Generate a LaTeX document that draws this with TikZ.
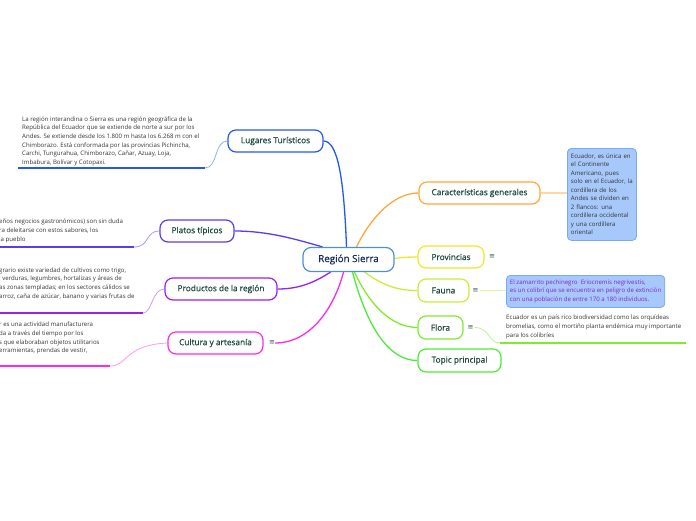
\documentclass[tikz,border=0pt]{standalone}
\usepackage{fontspec}
\setmainfont{Open Sans}
\newfontfamily\titlef[FakeBold=0.6]{Open Sans}
\newfontfamily\symf{DejaVu Sans}
\usetikzlibrary{backgrounds}
\definecolor{ttext}{HTML}{1F4A40}
\definecolor{ctext}{HTML}{1B2A5E}
\definecolor{stext}{HTML}{333333}
\definecolor{eqc}{HTML}{2D5A50}
\definecolor{cblue}{HTML}{4F8FD6}
\definecolor{clug}{HTML}{2458EE}
\definecolor{clugl}{HTML}{8FB0F8}
\definecolor{cpla}{HTML}{5A3CF0}
\definecolor{cplal}{HTML}{A89AF8}
\definecolor{cpro}{HTML}{9A20EE}
\definecolor{cprol}{HTML}{D09AF8}
\definecolor{ccul}{HTML}{FF2BE0}
\definecolor{ccull}{HTML}{FF9AF0}
\definecolor{ccar}{HTML}{FFA838}
\definecolor{ccarl}{HTML}{FFD8A0}
\definecolor{cprov}{HTML}{F2E62A}
\definecolor{cfau}{HTML}{C8EE3A}
\definecolor{cfaul}{HTML}{E0F5A0}
\definecolor{cflo}{HTML}{7CEC2C}
\definecolor{cflol}{HTML}{B8F590}
\definecolor{ctop}{HTML}{4CEB3A}
\definecolor{boxf}{HTML}{A6C8FA}
\definecolor{boxb}{HTML}{7AA9F5}
\definecolor{purp}{HTML}{8A22CC}
\begin{document}
\begin{tikzpicture}[x=1pt,y=-1pt,
  topic/.style={draw, rounded corners=8pt, line width=1.2pt, fill=white, minimum height=22pt, inner sep=0pt, text=ttext, font=\titlef\fontsize{8.3}{10}\selectfont},
  small/.style={inner sep=0pt, align=left, anchor=north west, text=stext, font=\fontsize{6.1}{8.6}\selectfont},
  conn/.style={line width=1.3pt},
  thinc/.style={line width=0.8pt},
  uline/.style={line width=1.5pt},
  eq/.style={inner sep=0pt, text=eqc, font=\symf\fontsize{7}{7}\selectfont},
  bbox/.style={draw=boxb, fill=boxf, rounded corners=4pt, line width=0.8pt, anchor=north west, align=left, text=stext, font=\fontsize{6.1}{8.5}\selectfont}
]
\useasboundingbox (0,0) rectangle (696,520);
\clip (0,0) rectangle (696,520);

% central
\node[topic, draw=cblue, minimum width=91pt, minimum height=24pt, text=ctext, font=\titlef\fontsize{9.8}{11}\selectfont] (C) at (348.5,259.5) {Región Sierra};

% left topics
\node[topic, draw=clug, minimum width=95pt] (lug) at (275.5,141) {Lugares Turísticos};
\node[topic, draw=cpla, minimum width=74pt] (pla) at (197,231) {Platos típicos};
\node[topic, draw=cpro, minimum width=112pt] (pro) at (221,289) {Productos de la región};
\node[topic, draw=ccul, minimum width=95pt] (cul) at (215.5,343) {Cultura y artesanía};
\node[eq] (eqcul) at (272,343) {≡};

% right topics
\node[topic, draw=ccar, minimum width=121pt] (car) at (479.5,193) {Características generales};
\node[topic, draw=cprov, minimum width=66pt] (prov) at (451,257) {Provincias};
\node[eq] (eqprov) at (492,257) {≡};
\node[topic, draw=cfau, minimum width=51pt, minimum height=23pt] (fau) at (443.5,290.5) {Fauna};
\node[eq] (eqfau) at (475.5,290.5) {≡};
\node[topic, draw=cflo, minimum width=45pt, minimum height=23pt] (flo) at (440.5,327.5) {Flora};
\node[eq] (eqflo) at (470.5,327.5) {≡};
\node[topic, draw=ctop, minimum width=83pt, minimum height=23pt] (top) at (459.5,360.5) {Topic principal};

% left texts
\node[small] (tlug) at (22,116.5) {La región interandina o Sierra es una región geográfica de la\\
República del Ecuador que se extiende de norte a sur por los\\
Andes. Se extiende desde los 1.800 m hasta los 6.268 m con el\\
Chimborazo. Está conformada por las provincias Pichincha,\\
Carchi, Tungurahua, Chimborazo, Cañar, Azuay, Loja,\\
Imbabura, Bolívar y Cotopaxi.};
\coordinate (luA) at (18,168);
\coordinate (luB) at (205,168);

\node[small] (tpla) at (-1,219) {eños negocios gastronómicos) son sin duda\\
ra deleitarse con estos sabores, los\\
ia pueblo};
\coordinate (plA) at (0,247);
\coordinate (plB) at (134,247);

\node[small] (tpro) at (-1,267.5) {grario existe variedad de cultivos como trigo,\\
, verduras, legumbres, hortalizas y áreas de\\
as zonas templadas; en los sectores cálidos se\\
arroz, caña de azúcar, banano y varias frutas de};
\coordinate (prA) at (0,313);
\coordinate (prB) at (143,313);

\node[small] (tcul) at (-1,322) {r es una actividad manufacturera\\
da a través del tiempo por los\\
s que elaboraban objetos utilitarios\\
erramientas, prendas de vestir,};
\coordinate (cuA) at (0,366);
\coordinate (cuB) at (110,366);

% right boxes
\node[bbox, text width=62pt, inner xsep=3.5pt, inner ysep=4pt, minimum height=92pt, anchor=north west] (bcar) at (567,148) {Ecuador, es única en\\
el Continente\\
Americano, pues\\
solo en el Ecuador, la\\
cordillera de los\\
Andes se dividen en\\
2 flancos: una\\
cordillera occidental\\
y una cordillera\\
oriental};

\node[bbox, text=purp, font=\fontsize{6.1}{8.5}\selectfont, inner xsep=3.5pt, inner ysep=3pt, minimum width=158pt, minimum height=32pt, anchor=north west] (bfau) at (506,275) {El zamarrito pechinegro\ \ Eriocnemis negrivestis,\\
es un colibrí que se encuentra en peligro de extinción\\
con una población de entre 170 a 180 individuos.};

\node[small] (tflo) at (506,315) {Ecuador es un país rico biodiversidad como las orquídeas\\
bromelias, como el mortiño planta endémica muy importante\\
para los colibríes};
\coordinate (flA) at (500,343);
\coordinate (flB) at (686,343);

\begin{pgfonlayer}{background}
% center connectors
\draw[conn, clug] ([xshift=-2pt]C.north) .. controls (344,180) and (338,141) .. (lug.east);
\draw[conn, cpla] ([xshift=-26pt]C.north) .. controls (295,239) and (268,231) .. (pla.east);
\draw[conn, cpro] ([xshift=-18pt]C.south) .. controls (315,282) and (300,289) .. (pro.east);
\draw[conn, ccul] ([xshift=-5pt]C.south) .. controls (335,305) and (312,343) .. (eqcul.east);
\draw[conn, ccar] ([xshift=8pt]C.north) .. controls (372,215) and (395,193) .. (car.west);
\draw[conn, cprov] ([yshift=1pt]C.east) .. controls (405,257) and (410,257) .. (prov.west);
\draw[conn, cfau] ([xshift=16pt]C.south) .. controls (385,287) and (400,290.5) .. (fau.west);
\draw[conn, cflo] ([xshift=6pt]C.south) .. controls (372,310) and (395,327.5) .. (flo.west);
\draw[conn, ctop] ([xshift=4pt]C.south) .. controls (368,330) and (390,360.5) .. (top.west);
% left details
\draw[uline, clug] (luA) -- (luB);
\draw[thinc, clugl] (luB) .. controls (218,168) and (214,141) .. (lug.west);
\draw[uline, cpla] (plA) -- (plB);
\draw[thinc, cplal] (plB) .. controls (150,247) and (145,231) .. (pla.west);
\draw[uline, cpro] (prA) -- (prB);
\draw[thinc, cprol] (prB) .. controls (152,313) and (152,289) .. (pro.west);
\draw[uline, ccul] (cuA) -- (cuB);
\draw[thinc, ccull] (cuB) .. controls (128,366) and (124,345) .. (cul.west);
% right details
\draw[line width=1.2pt, ccarl] (car.east) -- (bcar.west |- car.east);
\draw[line width=1.2pt, cfaul] ([xshift=1pt]eqfau.east) -- (bfau.west |- eqfau.east);
\draw[thinc, cflol] ([xshift=1pt]eqflo.east) .. controls (490,327.5) and (488,343) .. (flA);
\draw[uline, cflo] (flA) -- (flB);
\end{pgfonlayer}
\end{tikzpicture}
\end{document}
